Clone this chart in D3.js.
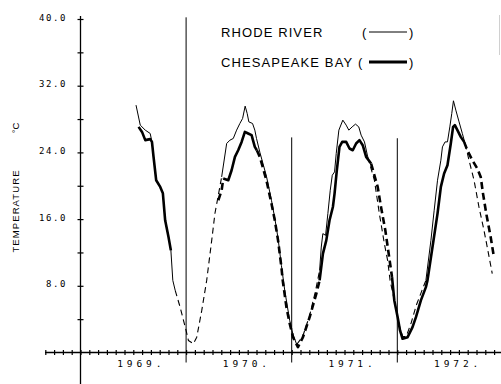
<!DOCTYPE html>
<html>
<head>
<meta charset="utf-8">
<script src="https://cdn.jsdelivr.net/npm/d3@7/dist/d3.min.js"></script>
<style>
body { margin: 0; background: #fff; }
svg { display: block; }
.plot { font-family: "DejaVu Sans Mono", monospace; }
</style>
</head>
<body>
<div id="chart"></div>
<script>
// time is in months counted from 1 Jan 1969, values are water temperature in deg C
// each array holds line pieces, a piece is a list of [month, temp]
var rhodeSolid = [
  [[6.31,29.67],[6.79,27.27],[7.36,26.67],[7.92,26.27],[8.12,25.26],[8.30,23.46],[8.60,20.66],
   [9.06,19.86],[9.36,19.10],[9.62,15.86],[10.0,13.85],[10.27,12.25],[10.49,8.65],[10.76,7.45]],
  [[16.04,21.06],[16.61,25.07],[16.98,25.47],[17.36,25.67],[17.74,26.67],[18.11,27.47],[18.42,28.07],
   [18.71,29.55],[18.94,28.67],[19.13,27.66],[19.55,27.47],[19.81,26.67],[20.0,25.67],[20.38,24.02],
   [21.13,21.14],[21.70,18.26],[22.08,16.10],[22.45,13.69],[22.83,10.45],[23.21,7.45],[23.77,3.84],
   [24.15,2.16],[24.57,0.96]],
  [[27.17,9.85],[27.36,12.65],[27.54,14.26],[27.85,14.05],[28.11,16.66],[28.38,19.46],[28.61,21.26],
   [28.87,21.66],[29.06,23.87],[29.36,26.67],[29.81,27.87],[30.19,27.27],[30.49,26.67],[30.87,27.06],
   [31.25,27.39],[31.62,27.06],[31.89,26.07],[32.27,25.26],[32.64,23.46]],
  [[39.25,8.65],[39.82,13.45],[40.19,17.06],[40.57,20.66],[40.95,23.06],[41.13,24.66],[41.43,25.26],
   [41.70,25.26],[41.97,27.06],[42.19,28.67],[42.38,30.19],[42.65,29.07],[43.02,27.66],[43.39,26.27],
   [43.70,25.07]]
];

var rhodeDashed = [
  [[10.76,7.45],[11.32,5.44],[12.0,2.64],[12.26,1.44],[12.83,1.05],[13.21,1.84],[13.78,5.05],
   [14.34,8.65],[14.91,13.45],[15.28,16.70],[15.66,18.86],[16.04,21.06]],
  [[24.57,0.96],[25.25,1.92],[26.04,4.44],[26.72,7.45],[27.17,9.85]],
  [[32.64,23.46],[33.40,20.66],[33.96,16.66],[34.53,13.06],[34.90,11.05],[35.18,8.65],[35.66,6.25],
   [36.04,4.24],[36.31,2.88],[36.60,1.92],[37.02,1.92],[37.59,3.60],[38.15,5.65],[38.72,7.21],[39.25,8.65]],
  [[43.70,25.07],[44.15,23.06],[44.72,20.66],[45.28,17.45],[45.85,14.65],[46.22,12.65],[46.79,9.45]]
];

var baySolid = [
  [[6.60,27.06],[6.99,26.46],[7.36,25.47],[7.92,25.59],[8.12,25.26],[8.30,23.46],[8.60,20.66],
   [9.06,19.86],[9.36,19.10],[9.62,15.86],[10.0,13.85],[10.27,12.25]],
  [[16.22,20.86],[16.79,20.66],[17.17,21.86],[17.55,23.46],[17.92,24.26],[18.31,25.26],[18.68,26.46],
   [19.05,26.27],[19.44,26.07],[19.81,24.66],[20.04,24.26]],
  [[27.17,8.65],[27.55,11.86],[27.93,13.45],[28.30,15.86],[28.68,17.45],[28.87,19.06],[29.13,21.86],
   [29.43,24.66],[29.74,25.26],[30.19,25.26],[30.57,24.47],[30.94,24.26],[31.32,25.07],[31.70,25.47],
   [32.07,24.86],[32.46,23.46],[33.02,22.67]],
  [[35.40,9.05],[35.66,6.25],[36.04,4.24],[36.31,2.64],[36.60,1.65],[37.17,1.84],[37.73,3.04],
   [38.12,4.24],[38.68,6.25],[39.25,7.84],[39.43,8.65],[40.0,12.65],[40.57,16.66],[40.95,19.86],
   [41.32,21.47],[41.70,22.46],[42.08,25.07],[42.34,27.06],[42.54,27.27],[42.83,26.67],[43.21,25.86],
   [43.59,25.26]]
];

var bayDashed = [
  [[15.66,18.26],[16.04,19.46],[16.22,20.86]],
  [[20.04,24.26],[20.38,23.46],[21.13,20.66],[21.70,17.86],[22.08,15.86],[22.45,13.45],[22.83,10.25],
   [22.98,8.65],[23.40,5.44],[23.77,3.48],[24.15,1.84],[24.71,0.64],[25.28,1.84],[26.04,4.24],
   [26.80,7.05],[27.17,8.65]],
  [[33.02,22.67],[33.77,19.86],[34.15,17.45],[34.64,14.65],[35.02,11.86],[35.40,9.05]],
  [[43.59,25.26],[43.96,24.26],[44.53,23.06],[45.09,22.07],[45.48,21.06],[45.74,19.06],[46.11,16.66],
   [46.61,13.85],[46.98,11.45]]
];

var yLabelValues = [8, 16, 24, 32, 40];
var yLabels = ["8.0", "16.0", "24.0", "32.0", "40.0"];
var yearStarts = [0, 12, 24, 36];
var yearLabels = ["1969.", "1970.", "1971.", "1972."];
var legendNames = ["RHODE RIVER", "CHESAPEAKE BAY"];

var svgWidth = 501;
var svgHeight = 384;

var svg = d3.select("#chart")
  .append("svg")
  .attr("class", "plot")
  .attr("width", svgWidth)
  .attr("height", svgHeight);

var x = d3.scaleLinear().domain([0, 48]).range([80.5, 80.5 + 48 * 8.8]);
var y = d3.scaleLinear().domain([0, 40]).range([352.5, 19]);

// y axis with ticks crossing the line
var yAxis = svg.append("g")
  .attr("transform", "translate(" + x(0) + ",0)")
  .call(d3.axisLeft(y).tickValues(d3.range(4, 41, 4)).tickSize(3).tickFormat(""));
yAxis.select(".domain").remove();
yAxis.selectAll(".tick line").attr("x1", 3).attr("stroke-width", 1.2);

svg.append("line")
  .attr("x1", x(0)).attr("x2", x(0))
  .attr("y1", 16).attr("y2", svgHeight)
  .attr("stroke", "#000").attr("stroke-width", 1.3);

svg.selectAll(".ylab")
  .data(yLabelValues)
  .enter()
  .append("text")
  .attr("class", "ylab")
  .attr("x", 67)
  .attr("y", d => y(d) + 1.5)
  .attr("text-anchor", "end")
  .style("font-size", "9px")
  .style("letter-spacing", "1.6px")
  .text((d, i) => yLabels[i]);

// x axis, one tick per month
var xAxis = svg.append("g")
  .attr("transform", "translate(0," + y(0) + ")")
  .call(d3.axisBottom(x).tickValues(d3.range(-4, 48)).tickSize(2.5).tickFormat(""));
xAxis.select(".domain").remove();
xAxis.selectAll(".tick line").attr("y1", -2.5).attr("stroke-width", 1.2);

svg.append("line")
  .attr("x1", 45).attr("x2", svgWidth)
  .attr("y1", y(0)).attr("y2", y(0))
  .attr("stroke", "#000").attr("stroke-width", 1.3);

// year boundaries
var dividerTops = [40.2, 25.8, 25.7];
svg.selectAll(".divider")
  .data(yearStarts.slice(1))
  .enter()
  .append("line")
  .attr("class", "divider")
  .attr("x1", d => x(d)).attr("x2", d => x(d))
  .attr("y1", (d, i) => y(dividerTops[i]))
  .attr("y2", y(0) + 10)
  .attr("stroke", "#000").attr("stroke-width", 1);

svg.selectAll(".year")
  .data(yearStarts)
  .enter()
  .append("text")
  .attr("class", "year")
  .attr("x", d => x(d + 6) + 8)
  .attr("y", y(0) + 14)
  .attr("text-anchor", "middle")
  .style("font-size", "9.5px")
  .style("letter-spacing", "3.9px")
  .text((d, i) => yearLabels[i]);

// axis title
svg.append("text")
  .attr("transform", "translate(19,211) rotate(-90)")
  .attr("text-anchor", "middle")
  .style("font-family", "'Liberation Sans', sans-serif")
  .style("font-size", "9.5px")
  .style("letter-spacing", "1.1px")
  .text("TEMPERATURE");
svg.append("text")
  .attr("transform", "translate(19,128) rotate(-90)")
  .attr("text-anchor", "middle")
  .style("font-family", "'Liberation Sans', sans-serif")
  .style("font-size", "9.5px")
  .text("°C");

var line = d3.line()
  .x(d => x(d[0]))
  .y(d => y(d[1]));

function drawPieces(pieces, width, dash) {
  svg.append("g")
    .selectAll("path")
    .data(pieces)
    .enter()
    .append("path")
    .attr("d", line)
    .attr("fill", "none")
    .attr("stroke", "#000")
    .attr("stroke-width", width)
    .attr("stroke-linejoin", "round")
    .attr("stroke-dasharray", dash);
}

drawPieces(bayDashed, 2.6, "7,4");
drawPieces(rhodeDashed, 1.1, "6,4");
drawPieces(baySolid, 2.6, null);
drawPieces(rhodeSolid, 1, null);

// legend
var legend = svg.append("g")
  .style("font-family", "'Liberation Sans', sans-serif")
  .style("font-size", "13px")
  .style("letter-spacing", "1.1px");

legend.selectAll(".lname")
  .data(legendNames)
  .enter()
  .append("text")
  .attr("x", 221)
  .attr("y", (d, i) => 37 + i * 30)
  .text(d => d);

[1, 3].forEach(function (w, i) {
  legend.append("text").attr("x", i ? 358 : 362).attr("y", 37 + i * 30).text("(");
  legend.append("text").attr("x", 409).attr("y", 37 + i * 30).text(")");
  legend.append("line")
    .attr("x1", 369).attr("x2", 407)
    .attr("y1", 32 + i * 30).attr("y2", 32 + i * 30)
    .attr("stroke", "#000").attr("stroke-width", w);
});

// faint edge mark at the right side of the scan
svg.append("line")
  .attr("x1", 499.5).attr("x2", 499.5)
  .attr("y1", 15).attr("y2", 55)
  .attr("stroke", "#d0d0d0").attr("stroke-width", 1);
</script>
</body>
</html>
